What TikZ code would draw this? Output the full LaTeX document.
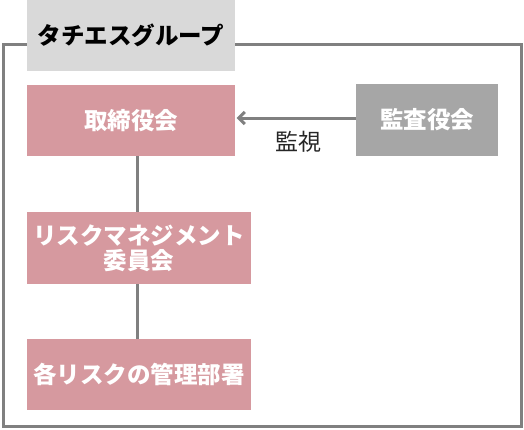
\documentclass[tikz,border=0pt]{standalone}
\usepackage{fontspec}
\setmainfont{Noto Sans CJK JP}
\usetikzlibrary{arrows.meta}
\definecolor{pinkbox}{HTML}{D6999F}
\definecolor{graybox}{HTML}{A6A6A6}
\definecolor{titlebox}{HTML}{D9D9D9}
\definecolor{linegray}{HTML}{808080}
\tikzset{
  boxbase/.style={inner sep=0pt, align=center, font=\fontsize{23.5}{25}\selectfont\bfseries},
  pinkb/.style={boxbase, fill=pinkbox, text=white},
  grayb/.style={boxbase, fill=graybox, text=white},
  titleb/.style={boxbase, fill=titlebox, text=black},
  conn/.style={draw=linegray, line width=3pt},
}
\begin{document}
\begin{tikzpicture}[x=1pt,y=-1pt]
\useasboundingbox (0,0) rectangle (524,429);
\draw[linegray, line width=3pt] (3,44.5) rectangle (521,426.5);
\node[titleb, minimum width=208pt, minimum height=71pt] (title) at (131,35.5) {タチエスグループ};
\node[pinkb, minimum width=208pt, minimum height=71pt] (tori) at (131,120.5) {取締役会};
\node[grayb, minimum width=142pt, minimum height=72pt] (kansa) at (427,120) {監査役会};
\node[pinkb, minimum width=224pt, minimum height=72pt] (risk) at (139,248) {リスクマネジメント\\委員会};
\node[pinkb, minimum width=224pt, minimum height=71pt] (dept) at (139,374.5) {各リスクの管理部署};
\coordinate (kl) at (kansa.west |- 0,118);
\coordinate (tr) at (tori.east |- 0,118);
\draw[conn, -{Straight Barb[length=6pt,width=12pt,line width=3pt]}] (kl) -- ([xshift=1.5pt]tr);
\node[font=\fontsize{23}{25}\selectfont, text=black!85] (mon) at (298,142) {監視};
\draw[conn] (tori.south -| 137,0) -- (risk.north -| 137,0);
\draw[conn] (risk.south -| 137,0) -- (dept.north -| 137,0);
\end{tikzpicture}
\end{document}
